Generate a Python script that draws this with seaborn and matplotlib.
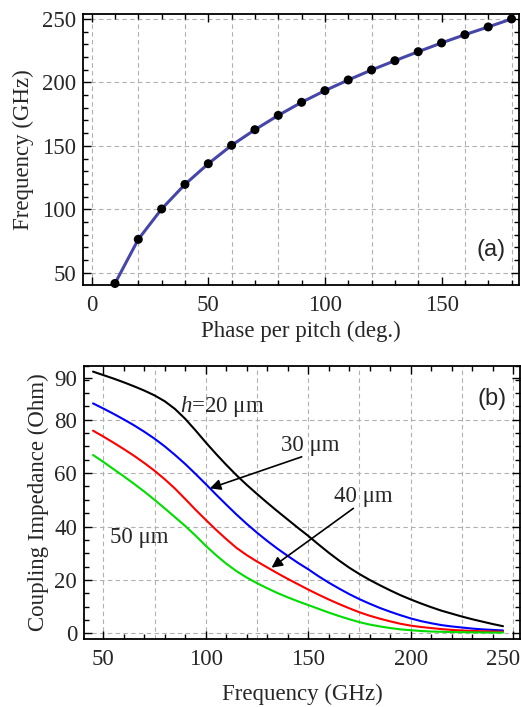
import numpy as np
import seaborn as sns
import pandas as pd
import matplotlib.pyplot as plt
from matplotlib.ticker import MultipleLocator, FixedLocator, FixedFormatter

# (a) dispersion: phase per pitch vs frequency
phase = [10, 20, 30, 40, 50, 60, 70, 80, 90, 100, 110, 120, 130, 140, 150, 160, 170, 180]
freq = [41.5, 76.3, 100.2, 119.6, 135.9, 150.4, 162.7, 174.0, 184.3, 193.5,
        201.9, 209.8, 217.1, 224.2, 231.1, 237.6, 243.7, 250.0]

# (b) coupling impedance vs frequency for several h (read every 5 GHz)
f_ghz = [45, 50, 55, 60, 65, 70, 75, 80, 85, 90, 95, 100, 105, 110, 115, 120,
         125, 130, 135, 140, 145, 150, 155, 160, 165, 170, 175, 180, 185, 190,
         195, 200, 205, 210, 215, 220, 225, 230, 235, 240, 245]
z_20 = [98.0, 96.7, 95.4, 94.0, 92.5, 90.9, 89.1, 86.9, 84.0, 80.3, 76.0, 71.5,
        67.2, 63.1, 59.2, 55.6, 52.2, 48.9, 45.7, 42.6, 39.5, 36.5, 33.3, 30.2,
        27.3, 24.6, 22.2, 20.0, 18.0, 16.1, 14.3, 12.7, 11.2, 9.8, 8.5, 7.4,
        6.3, 5.3, 4.4, 3.5, 2.7]
z_30 = [86.1, 84.2, 82.2, 80.1, 77.9, 75.5, 72.9, 70.0, 66.8, 63.4, 59.7, 55.9,
        52.0, 48.2, 44.5, 41.0, 37.7, 34.6, 31.7, 29.0, 26.4, 24.0, 21.4, 19.0,
        16.8, 14.7, 12.8, 11.1, 9.5, 8.1, 6.8, 5.6, 4.6, 3.8, 3.1, 2.6, 2.2,
        1.8, 1.5, 1.3, 1.1]
z_40 = [75.9, 73.7, 71.4, 69.0, 66.5, 63.8, 60.9, 57.7, 54.2, 50.3, 46.3, 42.5,
        38.8, 35.3, 32.0, 29.3, 26.9, 24.7, 22.5, 20.4, 18.4, 16.4, 14.5, 12.7,
        11.0, 9.4, 7.9, 6.6, 5.5, 4.5, 3.6, 2.9, 2.4, 2.0, 1.6, 1.3, 1.1, 0.9,
        0.8, 0.7, 0.6]
z_50 = [66.8, 64.2, 61.5, 58.8, 56.0, 53.1, 50.0, 46.8, 43.5, 40.2, 36.6, 32.8,
        29.3, 26.1, 23.3, 20.9, 18.8, 16.9, 15.1, 13.5, 12.0, 10.6, 9.2, 7.8,
        6.5, 5.3, 4.2, 3.3, 2.6, 2.0, 1.5, 1.2, 0.9, 0.7, 0.6, 0.5, 0.45, 0.4,
        0.35, 0.3, 0.3]

sns.set_style('ticks')
plt.rcParams['font.family'] = ['Liberation Serif', 'DejaVu Serif']
plt.rcParams['mathtext.fontset'] = 'custom'
plt.rcParams['mathtext.rm'] = 'Liberation Serif'
plt.rcParams['mathtext.it'] = 'Liberation Serif:italic'
plt.rcParams['font.size'] = 16.5

fig = plt.figure(figsize=(5.21, 7.07), dpi=100)
ax1 = fig.add_axes([83 / 521, 1 - 285 / 707, 436 / 521, 271 / 707])
ax2 = fig.add_axes([84 / 521, 1 - 639 / 707, 436 / 521, 273 / 707])

grid_kw = dict(color='#b0b0b0', lw=0.8, dashes=(4, 3), zorder=0)

# %% panel (a)
df_a = pd.DataFrame({'phase': phase, 'freq': freq})
sns.lineplot(data=df_a, x='phase', y='freq', ax=ax1, color='#4646a8', lw=2.2, zorder=3)
sns.scatterplot(data=df_a, x='phase', y='freq', ax=ax1, color='black', s=42,
                edgecolor='none', zorder=4, clip_on=False)
ax1.set_xlim(-3.7, 183.2)
ax1.set_ylim(40.3, 253.9)
for gx in range(0, 181, 20):
    ax1.axvline(gx, **grid_kw)
for gy in range(50, 251, 50):
    ax1.axhline(gy, **grid_kw)
ax1.xaxis.set_major_locator(MultipleLocator(50))
ax1.xaxis.set_minor_locator(MultipleLocator(10))
ax1.yaxis.set_major_locator(MultipleLocator(50))
ax1.yaxis.set_minor_locator(MultipleLocator(10))
ax1.set_xlabel('Phase per pitch (deg.)', labelpad=4)
ax1.set_ylabel('Frequency (GHz)', labelpad=6)
ax1.text(0.97, 0.13, '(a)', transform=ax1.transAxes, ha='right', va='center',
         family='Liberation Sans', fontsize=17)

# %% panel (b)
df_b = pd.DataFrame({'f': f_ghz * 4,
                     'z': z_20 + z_30 + z_40 + z_50,
                     'h': ['20'] * len(f_ghz) + ['30'] * len(f_ghz)
                          + ['40'] * len(f_ghz) + ['50'] * len(f_ghz)})
pal = {'20': 'black', '30': '#0000ff', '40': '#ff0000', '50': '#00dd00'}
sns.lineplot(data=df_b, x='f', y='z', hue='h', palette=pal, ax=ax2, lw=1.5,
             legend=False, zorder=3)
ax2.set_xlim(40.6, 253.3)
ax2.set_ylim(-2.1, 100.1)
for gx in range(50, 251, 25):
    ax2.axvline(gx, **grid_kw)
for gy in range(0, 81, 20):
    ax2.axhline(gy, **grid_kw)
ax2.xaxis.set_major_locator(FixedLocator([50, 100, 150, 200, 250]))
# the last label is drawn separately, nudged left to stay inside the figure
ax2.xaxis.set_major_formatter(FixedFormatter(['50', '100', '150', '200', '']))
ax2.xaxis.set_minor_locator(MultipleLocator(10))
ax2.yaxis.set_major_locator(FixedLocator([0, 20, 40, 60, 80, 95.6]))
ax2.yaxis.set_major_formatter(FixedFormatter(['0', '20', '40', '60', '80', '90']))
ax2.yaxis.set_minor_locator(MultipleLocator(5))
ax2.set_xlabel('Frequency (GHz)', labelpad=10)
ax2.set_ylabel('Coupling Impedance (Ohm)', labelpad=4)
ax2.annotate('250', xy=(250, 0), xycoords=ax2.get_xaxis_transform(),
             xytext=(-7.5, -7), textcoords='offset points',
             ha='center', va='top', fontsize=16.5)

ax2.text(87.5, 84.9, r'$h$=20 μm', ha='left', va='center')
ax2.text(151, 70.3, '30 μm', ha='center', va='center')
ax2.text(177, 51.4, '40 μm', ha='center', va='center')
ax2.text(67.5, 36, '50 μm', ha='center', va='center')
arrow = dict(arrowstyle='-|>', color='black', lw=1.2, mutation_scale=16,
             shrinkA=0, shrinkB=0)
ax2.annotate('', xy=(102, 54.3), xytext=(146.8, 66.1), arrowprops=arrow)
ax2.annotate('', xy=(132.1, 24.6), xytext=(172, 46.8), arrowprops=arrow)
ax2.text(0.97, 0.88, '(b)', transform=ax2.transAxes, ha='right', va='center',
         family='Liberation Sans', fontsize=17)

for ax in (ax1, ax2):
    for sp in ax.spines.values():
        sp.set_visible(True)
        sp.set_linewidth(1.3)
        sp.set_color('black')
    ax.tick_params(which='both', direction='in', top=True, right=True,
                   color='black', width=1.0)
    ax.tick_params(which='major', length=6, pad=5, labelsize=16.5)
    ax.tick_params(which='minor', length=3.5)
    ax.tick_params(axis='x', which='major', pad=7)

fig.savefig('out.png', dpi=100)
